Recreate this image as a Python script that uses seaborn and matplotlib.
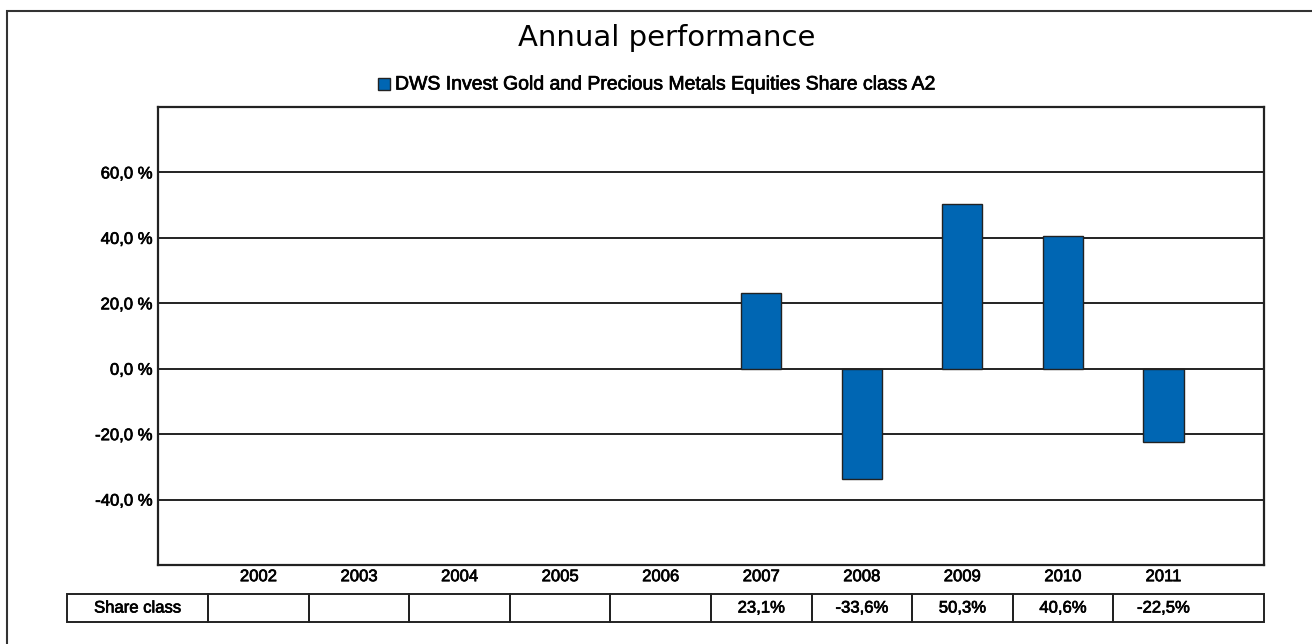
import numpy as np
import pandas as pd
import matplotlib
matplotlib.use("Agg")
import matplotlib.pyplot as plt
import matplotlib.patheffects as pe
from matplotlib.patches import Rectangle
import seaborn as sns

# data
years = ['2002', '2003', '2004', '2005', '2006', '2007', '2008', '2009', '2010', '2011']
returns = [np.nan, np.nan, np.nan, np.nan, np.nan, 23.1, -33.6, 50.3, 40.6, -22.5]
series_name = 'DWS Invest Gold and Precious Metals Equities Share class A2'
row_label = 'Share class'
y_ticks = [-40, -20, 0, 20, 40, 60]

df = pd.DataFrame({'Year': years, 'Return': returns})

sns.set_style('white')
plt.rcParams['font.family'] = ['Liberation Sans', 'DejaVu Sans']
plt.rcParams['text.color'] = 'black'
plt.rcParams['xtick.color'] = 'black'
plt.rcParams['ytick.color'] = 'black'

# slightly heavier small text, like the original rendering
heavy = [pe.withStroke(linewidth=0.5, foreground='black')]

W, H = 1312, 644
fig = plt.figure(figsize=(W / 100, H / 100), dpi=100)

def fx(px):
    return px / W

def fy(py):
    return 1 - py / H

# outer frame
fig.patches.append(Rectangle((fx(7), fy(660)), fx(1320) - fx(7), fy(11) - fy(660),
                             transform=fig.transFigure, fill=False,
                             edgecolor='#333333', linewidth=1.5))

left, right, top, bottom = 158, 1264, 107, 565
ax = fig.add_axes([fx(left), fy(bottom), fx(right) - fx(left), fy(top) - fy(bottom)])

sns.barplot(data=df, x='Year', y='Return', order=years, color='#0066B3',
            saturation=1, width=0.4, edgecolor='#222222', linewidth=1.0, ax=ax,
            zorder=3)

ax.set_xlim(-1, len(years))
ax.set_ylim(-60, 80)
ax.set_yticks(y_ticks)
ax.set_yticklabels([f'{v:.1f}'.replace('.', ',') + ' %' for v in y_ticks], fontsize=12)
ax.set_xticks(range(len(years)))
ax.set_xticklabels(years, fontsize=12)
ax.tick_params(axis='x', length=2, width=1, pad=1, color='#999999', labelcolor='black')
ax.tick_params(axis='y', length=0, pad=4, labelcolor='black')
for lab in ax.get_xticklabels() + ax.get_yticklabels():
    lab.set_path_effects(heavy)
ax.set_xlabel('')
ax.set_ylabel('')
for y in y_ticks:
    ax.axhline(y, color='#111111', linewidth=1.3, zorder=1)
for side in ['left', 'bottom', 'top', 'right']:
    ax.spines[side].set_visible(True)
    ax.spines[side].set_color('#222222')
    ax.spines[side].set_linewidth(1.6)

# title and legend
fig.text(fx(667), fy(38), 'Annual performance', ha='center', va='center',
         fontsize=21, family=['DejaVu Sans'])
fig.patches.append(Rectangle((fx(378), fy(90)), fx(12), fy(78) - fy(90),
                             transform=fig.transFigure, facecolor='#0066B3',
                             edgecolor='#222222', linewidth=1.0))
fig.text(fx(395), fy(85), series_name, ha='left', va='center', fontsize=14,
         path_effects=heavy)

# value table under the axis
tab_top, tab_bot = 594, 622
tab = fig.add_axes([fx(left), fy(tab_bot), fx(right) - fx(left), fy(tab_top) - fy(tab_bot)])
tab.set_xlim(-1, len(years))
tab.set_ylim(0, 1)
tab.axis('off')
unit = (right - left) / (len(years) + 1)
x_first = -1 - (left - 67) / unit
edges = [x_first, -0.5] + [i + 0.5 for i in range(len(years) - 1)] + [len(years)]
for a, b in zip(edges[:-1], edges[1:]):
    tab.add_patch(Rectangle((a, 0), b - a, 1, fill=False, edgecolor='#222222',
                            linewidth=1.4, clip_on=False))
tab.text((x_first - 0.5) / 2, 0.5, row_label, ha='center', va='center', fontsize=12,
         clip_on=False, path_effects=heavy)
for i, v in enumerate(returns):
    if not np.isnan(v):
        tab.text(i, 0.5, f'{v:.1f}'.replace('.', ',') + '%', ha='center', va='center',
                 fontsize=12, path_effects=heavy)

fig.savefig('out.png', dpi=100)
